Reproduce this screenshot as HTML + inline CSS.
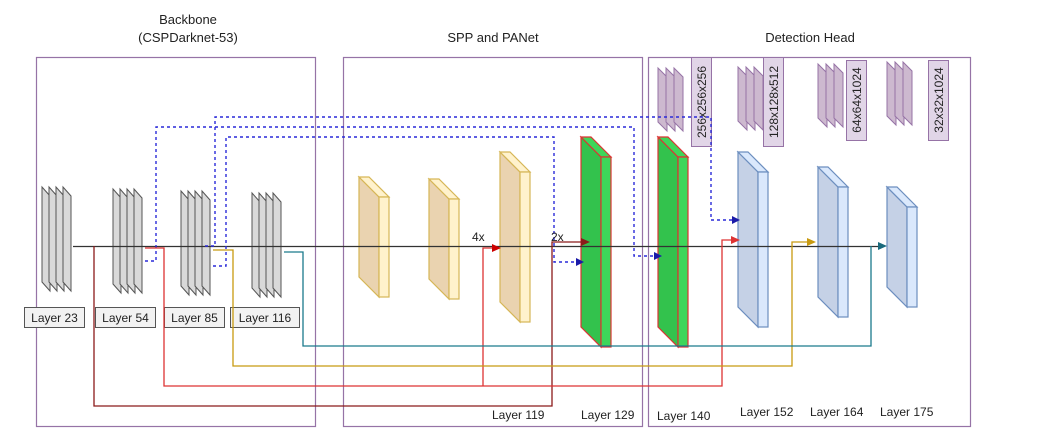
<!DOCTYPE html>
<html><head><meta charset="utf-8"><style>
html,body{margin:0;padding:0;background:#fff;}
svg{display:block;font-family:"Liberation Sans",sans-serif;}
</style></head><body>
<svg width="1039" height="437" viewBox="0 0 1039 437" xmlns="http://www.w3.org/2000/svg">
<defs>
<g id="sheet"><polygon points="0,0 8,9 8,104 0,95" fill="#d9d9d9" stroke="#555" stroke-width="1"/></g>
<g id="psheet"><polygon points="0,0 9,9 9,63 0,54" fill="#cdb9cf" stroke="#9673a6" stroke-width="1"/></g>
</defs>
<!-- titles -->
<text x="188" y="24" font-size="13" text-anchor="middle" fill="#222">Backbone</text>
<text x="188" y="42" font-size="13" text-anchor="middle" fill="#222">(CSPDarknet-53)</text>
<text x="493" y="42" font-size="13" text-anchor="middle" fill="#222">SPP and PANet</text>
<text x="810" y="42" font-size="13" text-anchor="middle" fill="#222">Detection Head</text>
<!-- group boxes -->
<rect x="36.5" y="57.5" width="279" height="369" fill="none" stroke="#9673a6" stroke-width="1.2"/>
<rect x="343.5" y="57.5" width="299" height="369" fill="none" stroke="#9673a6" stroke-width="1.2"/>
<rect x="648.5" y="57.5" width="322" height="369" fill="none" stroke="#9673a6" stroke-width="1.2"/>

<!-- gray stacks -->
<g transform="translate(42,187)"><use href="#sheet"/><use href="#sheet" x="7"/><use href="#sheet" x="14"/><use href="#sheet" x="21"/></g>
<g transform="translate(113,189)"><use href="#sheet"/><use href="#sheet" x="7"/><use href="#sheet" x="14"/><use href="#sheet" x="21"/></g>
<g transform="translate(181,191)"><use href="#sheet"/><use href="#sheet" x="7"/><use href="#sheet" x="14"/><use href="#sheet" x="21"/></g>
<g transform="translate(252,193)"><use href="#sheet"/><use href="#sheet" x="7"/><use href="#sheet" x="14"/><use href="#sheet" x="21"/></g>

<!-- layer label boxes -->
<g font-size="12" fill="#222" text-anchor="middle">
<rect x="24.5" y="307.5" width="60" height="20" fill="#f2f2f2" stroke="#555"/><text x="54.5" y="322">Layer 23</text>
<rect x="95.5" y="307.5" width="60" height="20" fill="#f2f2f2" stroke="#555"/><text x="125.5" y="322">Layer 54</text>
<rect x="164.5" y="307.5" width="60" height="20" fill="#f2f2f2" stroke="#555"/><text x="194.5" y="322">Layer 85</text>
<rect x="230.5" y="307.5" width="69" height="20" fill="#f2f2f2" stroke="#555"/><text x="265" y="322">Layer 116</text>
</g>

<!-- purple stacks -->
<g transform="translate(658,68)"><use href="#psheet"/><use href="#psheet" x="8"/><use href="#psheet" x="16"/></g>
<g transform="translate(738,67)"><use href="#psheet"/><use href="#psheet" x="8"/><use href="#psheet" x="16"/></g>
<g transform="translate(818,64)"><use href="#psheet"/><use href="#psheet" x="8"/><use href="#psheet" x="16"/></g>
<g transform="translate(887,62)"><use href="#psheet"/><use href="#psheet" x="8"/><use href="#psheet" x="16"/></g>
<g font-size="12" fill="#222">
<rect x="691.5" y="57.5" width="20" height="89" fill="#e1d5e7" stroke="#9673a6"/><text transform="translate(706,102) rotate(-90)" text-anchor="middle">256x256x256</text>
<rect x="763.5" y="57.5" width="20" height="89" fill="#e1d5e7" stroke="#9673a6"/><text transform="translate(778,102) rotate(-90)" text-anchor="middle">128x128x512</text>
<rect x="846.5" y="60.5" width="20" height="80" fill="#e1d5e7" stroke="#9673a6"/><text transform="translate(861,100) rotate(-90)" text-anchor="middle">64x64x1024</text>
<rect x="928.5" y="60.5" width="20" height="80" fill="#e1d5e7" stroke="#9673a6"/><text transform="translate(943,100) rotate(-90)" text-anchor="middle">32x32x1024</text>
</g>

<!-- slabs: x,y,bottom -->
<g stroke-width="1.2">
<!-- yellow -->
<g fill="#ead3b0" stroke="#d6b656">
<polygon points="359,177 379,197 379,297 359,277"/><polygon points="359,177 369,177 389,197 379,197" fill="#fff2cc"/><rect x="379" y="197" width="10" height="100" fill="#fff2cc"/>
<polygon points="429,179 449,199 449,299 429,279"/><polygon points="429,179 439,179 459,199 449,199" fill="#fff2cc"/><rect x="449" y="199" width="10" height="100" fill="#fff2cc"/>
<polygon points="500,152 520,172 520,322 500,302"/><polygon points="500,152 510,152 530,172 520,172" fill="#fff2cc"/><rect x="520" y="172" width="10" height="150" fill="#fff2cc"/>
</g>
<!-- green -->
<g fill="#33c24d" stroke="#d33">
<polygon points="581,137 601,157 601,347 581,327"/><polygon points="581,137 591,137 611,157 601,157" fill="#3ed65a"/><rect x="601" y="157" width="10" height="190" fill="#3ed65a"/>
<polygon points="658,137 678,157 678,347 658,327"/><polygon points="658,137 668,137 688,157 678,157" fill="#3ed65a"/><rect x="678" y="157" width="10" height="190" fill="#3ed65a"/>
</g>
<!-- blue -->
<g fill="#c5d1e6" stroke="#6c8ebf">
<polygon points="738,152 758,172 758,327 738,307"/><polygon points="738,152 748,152 768,172 758,172" fill="#dae8fc"/><rect x="758" y="172" width="10" height="155" fill="#dae8fc"/>
<polygon points="818,167 838,187 838,317 818,297"/><polygon points="818,167 828,167 848,187 838,187" fill="#dae8fc"/><rect x="838" y="187" width="10" height="130" fill="#dae8fc"/>
<polygon points="887,187 907,207 907,307 887,287"/><polygon points="887,187 897,187 917,207 907,207" fill="#dae8fc"/><rect x="907" y="207" width="10" height="100" fill="#dae8fc"/>
</g>
</g>

<!-- main line -->
<line x1="73" y1="246.5" x2="880" y2="246.5" stroke="#333" stroke-width="1.3"/>

<!-- dashed blue -->
<g fill="none" stroke="#2a2ad8" stroke-width="1.4" stroke-dasharray="3,3">
<polyline points="145,261 156,261 156,127 634,127 634,256 656,256"/>
<polyline points="205,246 215,246 215,117 711,117 711,220 734,220"/>
<polyline points="213,266 226,266 226,137 554,137 554,262 578,262"/>
</g>
<g fill="#1a1aa8">
<polygon points="662,256 654,252 654,260"/>
<polygon points="740,220 732,216 732,224"/>
<polygon points="584,262 576,258 576,266"/>
</g>

<!-- colored connectors -->
<g fill="none" stroke-width="1.3">
<polyline stroke="#8b1a1a" points="94,246 94,406 552,406 552,242 582,242"/>
<polyline stroke="#d33" points="145,248 164,248 164,386 722,386 722,240 732,240"/>
<polyline stroke="#d33" points="483,386 483,248 494,248"/>
<polyline stroke="#c89a10" points="213,250 233,250 233,366 792,366 792,242 808,242"/>
<polyline stroke="#1a7a8c" points="284,252 303,252 303,346 871,346 871,246"/>
</g>
<polygon points="590,242 581,238 581,246" fill="#8b1a1a"/>
<polygon points="740,240 731,236 731,244" fill="#d33"/>
<polygon points="501,248 492,244 492,252" fill="#c00"/>
<polygon points="816,242 807,238 807,246" fill="#c89a10"/>
<polygon points="887,246 878,242 878,250" fill="#1a6a7c"/>

<g font-size="12" fill="#222">
<text x="472" y="241">4x</text>
<text x="551" y="241">2x</text>
<text x="492" y="419">Layer 119</text>
<text x="581" y="419">Layer 129</text>
<text x="657" y="420">Layer 140</text>
<text x="740" y="416">Layer 152</text>
<text x="810" y="416">Layer 164</text>
<text x="880" y="416">Layer 175</text>
</g>
</svg>
</body></html>
